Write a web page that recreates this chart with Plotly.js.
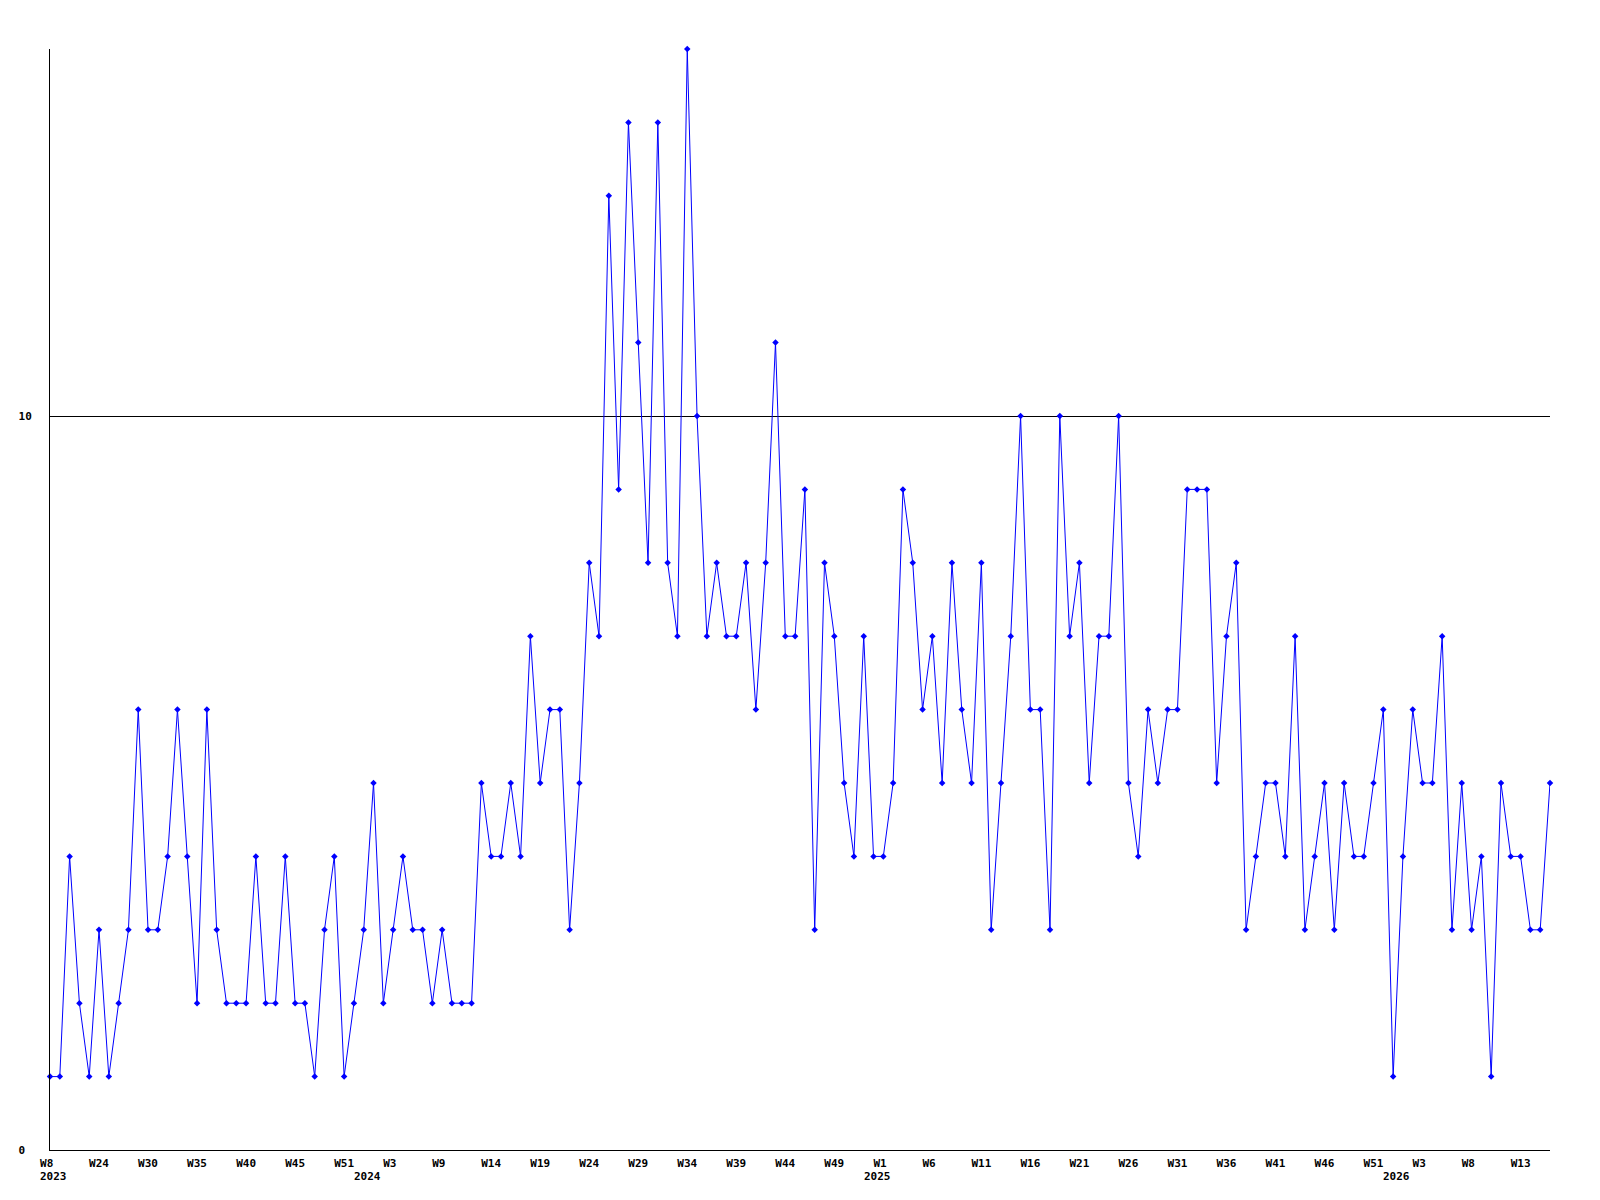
<!DOCTYPE html>
<html>
<head>
<meta charset="utf-8">
<script src="https://cdn.plot.ly/plotly-3.0.1.min.js"></script>
<style>html,body{margin:0;padding:0;background:#fff;}#chart{width:1600px;height:1200px;}</style>
</head>
<body>
<div id="chart"></div>
<script>
// Weekly counts (one value per week)
const weeklyValues = [
  1,1,4,2,1,3,1,2,3,6,
  3,3,4,6,4,2,6,3,2,2,
  2,4,2,2,4,2,2,1,3,4,
  1,2,3,5,2,3,4,3,3,2,
  3,2,2,2,5,4,4,5,4,7,
  5,6,6,3,5,8,7,13,9,14,
  11,8,14,8,7,15,10,7,8,7,
  7,8,6,8,11,7,7,9,3,8,
  7,5,4,7,4,4,5,9,8,6,
  7,5,8,6,5,8,3,5,7,10,
  6,6,3,10,7,8,5,7,7,10,
  5,4,6,5,6,6,9,9,9,5,
  7,8,3,4,5,5,4,7,3,4,
  5,3,5,4,4,5,6,1,4,6,
  5,5,7,3,5,3,4,1,5,4,
  4,3,3,5
];
// X tick labels (one every 5 weeks)
const weekTickLabels = ['W8','W24','W30','W35','W40','W45','W51','W3','W9','W14','W19','W24','W29','W34','W39','W44','W49','W1','W6','W11','W16','W21','W26','W31','W36','W41','W46','W51','W3','W8','W13'];
const tickEvery = 5;
// Year labels and the week index under which each one sits
const yearLabels = ['2023','2024','2025','2026'];
const yearAtIndex = [0, 32, 84, 137];
// Y ticks
const yTickVals = [0, 10];
const yTickText = ['0', '10'];

const xIdx = weeklyValues.map((_, i) => i);
const pad = s => { let t = s; while (t.length < 3) t += '\u00a0'; return t; };
const tickVals = weekTickLabels.map((_, i) => i * tickEvery);
const tickText = weekTickLabels.map(pad);
const yText = yTickText.map(s => s.length < 2 ? s + '\u00a0' : s);

const fontFam = 'DejaVu Sans Mono, monospace';
const tickFont = {family: fontFam, size: 11, color: '#000', weight: 'bold'};

const trace = {
  x: xIdx, y: weeklyValues,
  type: 'scatter', mode: 'lines+markers',
  line: {color: '#0000ff', width: 1},
  marker: {symbol: 'diamond', size: 5, color: '#0000ff'},
  cliponaxis: false,
  hoverinfo: 'y'
};

const annotations = yearLabels.map((t, i) => ({
  text: t, x: yearAtIndex[i], xref: 'x', y: 0, yref: 'paper',
  xanchor: 'left', yanchor: 'top', xshift: -11, yshift: -19,
  showarrow: false, font: tickFont, borderpad: 0
}));

const layout = {
  width: 1600, height: 1200,
  margin: {l: 50, r: 50, t: 49, b: 50, pad: 0},
  paper_bgcolor: '#fff', plot_bgcolor: '#fff',
  showlegend: false,
  xaxis: {
    range: [0, weeklyValues.length - 1],
    tickmode: 'array', tickvals: tickVals, ticktext: tickText,
    tickangle: 0, ticks: '', tickfont: tickFont,
    showline: true, linecolor: '#000', linewidth: 1,
    showgrid: false, zeroline: false, automargin: false,
    ticklabelstandoff: 3
  },
  yaxis: {
    range: [0, 15],
    tickmode: 'array', tickvals: yTickVals, ticktext: yText,
    ticks: '', tickfont: tickFont,
    showline: true, linecolor: '#000', linewidth: 1,
    showgrid: true, gridcolor: '#000', gridwidth: 1,
    zeroline: false, automargin: false,
    ticklabelstandoff: 15
  },
  annotations: annotations
};

Plotly.newPlot('chart', [trace], layout, {displayModeBar: false, staticPlot: true});
</script>
</body>
</html>
